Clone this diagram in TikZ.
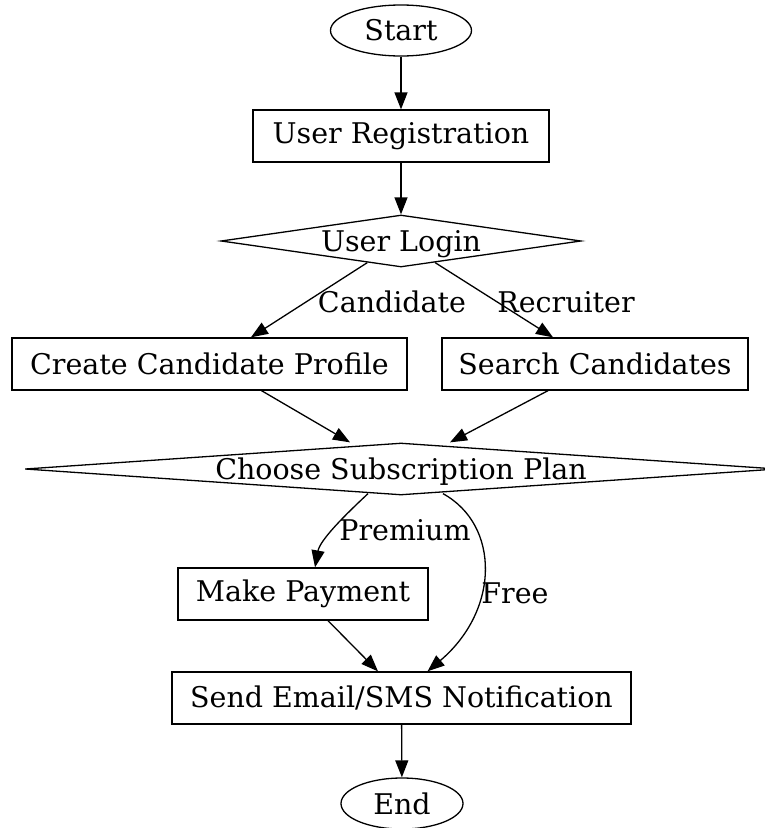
\documentclass[tikz,border=0pt]{standalone}
\usepackage{fontspec}
\setmainfont{DejaVu Serif}
\usetikzlibrary{shapes.geometric,arrows.meta}
\begin{document}
\begin{tikzpicture}[x=1pt,y=-1pt,
  every node/.style={font=\fontsize{28.5}{32}\selectfont, inner sep=0pt},
  box/.style={draw, rectangle, line width=1.3pt},
  oval/.style={draw, ellipse, line width=1.3pt},
  dia/.style={draw, diamond, line width=1.3pt, text height=20pt, text depth=0pt},
  conn/.style={line width=1.3pt, -{Triangle[length=17pt,width=13pt]}}
]
\useasboundingbox (0,0) rectangle (765,828);
\node[oval, minimum width=141pt, minimum height=51pt] (start) at (401,30.5) {Start};
\node[box, minimum width=296pt, minimum height=52pt] (reg) at (401,136) {User Registration};
\node[dia, minimum width=360pt, minimum height=52pt, aspect=6.9] (login) at (401,241) {User Login};
\node[box, minimum width=395pt, minimum height=52pt] (create) at (209.5,364) {Create Candidate Profile};
\node[box, minimum width=306pt, minimum height=52pt] (search) at (595,364) {Search Candidates};
\node[dia, minimum width=752pt, minimum height=52pt, aspect=14.5] (choose) at (401,469) {Choose Subscription Plan};
\node[box, minimum width=250pt, minimum height=52pt] (pay) at (303,594) {Make Payment};
\node[box, minimum width=459pt, minimum height=52pt] (send) at (401.5,698) {Send Email/SMS Notification};
\node[oval, minimum width=122pt, minimum height=51pt] (end) at (402,803.5) {End};

\draw[conn] (start) -- (reg);
\draw[conn] (reg) -- (login);
\draw[conn] (login) -- (create);
\draw[conn] (login) -- (search);
\node (lcand) at (392,302) {Candidate};
\node (lrec) at (566,302) {Recruiter};
\draw[conn] ([xshift=52pt]create.south) -- ([xshift=-51pt]choose.north);
\draw[conn] ([xshift=-47pt]search.south) -- ([xshift=49pt]choose.north);
\draw[conn] ([xshift=-33pt,yshift=2pt]choose.south) .. controls (345,515) and (320,540) .. ([xshift=12pt]pay.north);
\node (lprem) at (405,530) {Premium};
\draw[conn] ([xshift=42pt,yshift=2pt]choose.south) .. controls (500,525) and (500,610) .. ([xshift=26pt]send.north);
\node (lfree) at (515,593) {Free};
\draw[conn] ([xshift=25pt]pay.south) -- ([xshift=-23.5pt]send.north);
\draw[conn] (send) -- (end);
\end{tikzpicture}
\end{document}
